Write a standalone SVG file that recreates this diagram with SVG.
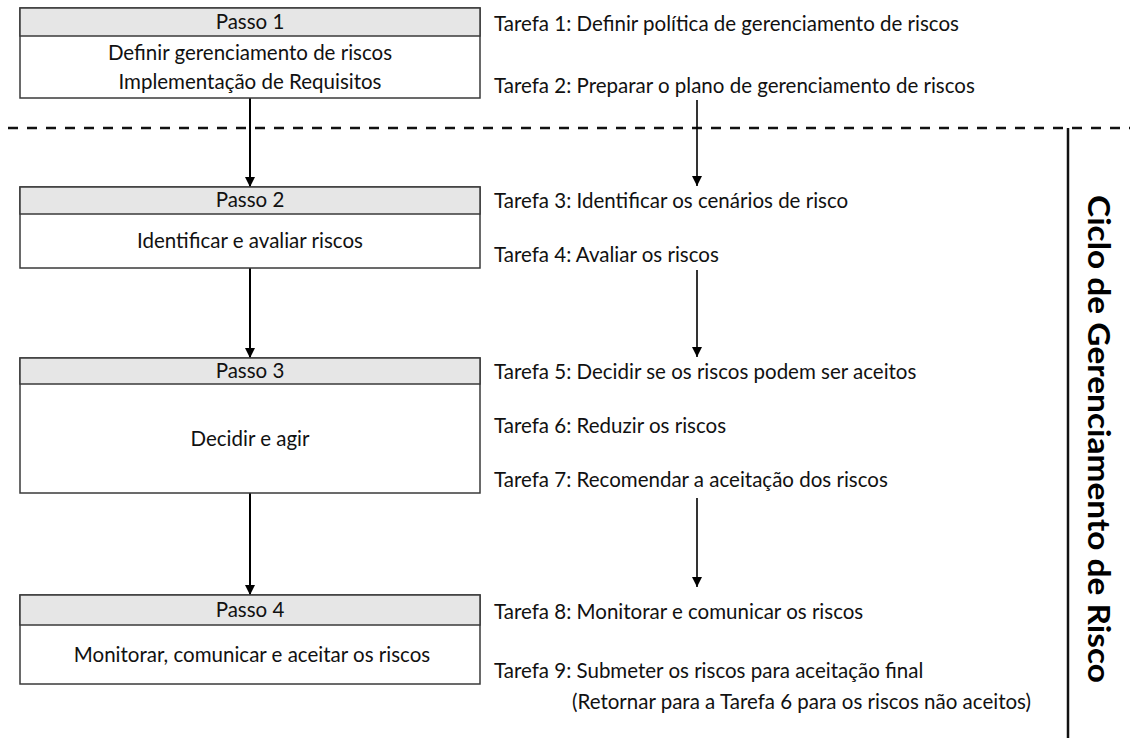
<svg xmlns="http://www.w3.org/2000/svg" width="1130" height="738" viewBox="0 0 1130 738">
  <style>
    .box { fill: #ffffff; stroke: #3a3a3a; stroke-width: 1.5; }
    .head { fill: #e6e6e6; stroke: #3a3a3a; stroke-width: 1.5; }
    .t { font-family: Lato, "Open Sans", sans-serif; font-size: 20.5px; fill: #111111; }
    .c { text-anchor: middle; }
    .flow { stroke: #000000; stroke-width: 2; fill: none; marker-end: url(#arrow); }
    .flow-thin { stroke: #000000; stroke-width: 1.6; fill: none; marker-end: url(#arrow); }
    .title { font-family: Lato, "Open Sans", sans-serif; font-size: 30px; font-weight: bold; fill: #000000; }
  </style>
  <defs>
    <marker id="arrow" viewBox="0 0 10 10" refX="10" refY="5" markerUnits="userSpaceOnUse" markerWidth="10" markerHeight="11" orient="auto">
      <path d="M0,0 L10,5 L0,10 Z" fill="#000000"/>
    </marker>
  </defs>

  <rect width="1130" height="738" fill="#ffffff"/>

  <!-- cycle boundary -->
  <g id="boundary">
    <line x1="8" y1="128" x2="1130" y2="128" stroke="#111111" stroke-width="2.5" stroke-dasharray="10 9"/>
    <line x1="1068" y1="128" x2="1068" y2="738" stroke="#111111" stroke-width="2.5"/>
    <text class="title" transform="translate(1100 439) rotate(90)" text-anchor="middle" dominant-baseline="central" textLength="488" lengthAdjust="spacingAndGlyphs">Ciclo de Gerenciamento de Risco</text>
  </g>

  <!-- connectors -->
  <g id="connectors">
    <line class="flow" x1="250" y1="98" x2="250" y2="187"/>
    <line class="flow" x1="250" y1="268" x2="250" y2="358"/>
    <line class="flow" x1="250" y1="493" x2="250" y2="595"/>
    <line class="flow-thin" x1="697" y1="100" x2="697" y2="186"/>
    <line class="flow-thin" x1="697" y1="270" x2="697" y2="357"/>
    <line class="flow-thin" x1="697" y1="498" x2="697" y2="587"/>
  </g>

  <g id="passo1">
    <rect class="box" x="20" y="8" width="460" height="90"/>
    <rect class="head" x="20" y="8" width="460" height="28"/>
    <text class="t c" x="250" y="29">Passo 1</text>
    <text class="t c" x="250" y="60">Definir gerenciamento de riscos</text>
    <text class="t c" x="250" y="89">Implementação de Requisitos</text>
  </g>

  <g id="passo2">
    <rect class="box" x="20" y="187" width="460" height="81"/>
    <rect class="head" x="20" y="187" width="460" height="27"/>
    <text class="t c" x="250" y="207">Passo 2</text>
    <text class="t c" x="250" y="248">Identificar e avaliar riscos</text>
  </g>

  <g id="passo3">
    <rect class="box" x="20" y="358" width="460" height="135"/>
    <rect class="head" x="20" y="358" width="460" height="26"/>
    <text class="t c" x="250" y="378">Passo 3</text>
    <text class="t c" x="250" y="446">Decidir e agir</text>
  </g>

  <g id="passo4">
    <rect class="box" x="20" y="595" width="460" height="89"/>
    <rect class="head" x="20" y="595" width="460" height="30"/>
    <text class="t c" x="250" y="617">Passo 4</text>
    <text class="t c" x="252" y="662">Monitorar, comunicar e aceitar os riscos</text>
  </g>

  <g id="tarefas">
    <text class="t" x="494" y="31">Tarefa 1: Definir política de gerenciamento de riscos</text>
    <text class="t" x="494" y="93">Tarefa 2: Preparar o plano de gerenciamento de riscos</text>
    <text class="t" x="494" y="208">Tarefa 3: Identificar os cenários de risco</text>
    <text class="t" x="494" y="262">Tarefa 4: Avaliar os riscos</text>
    <text class="t" x="494" y="379">Tarefa 5: Decidir se os riscos podem ser aceitos</text>
    <text class="t" x="494" y="433">Tarefa 6: Reduzir os riscos</text>
    <text class="t" x="494" y="487">Tarefa 7: Recomendar a aceitação dos riscos</text>
    <text class="t" x="494" y="619">Tarefa 8: Monitorar e comunicar os riscos</text>
    <text class="t" x="494" y="678">Tarefa 9: Submeter os riscos para aceitação final</text>
    <text class="t" x="572" y="709">(Retornar para a Tarefa 6 para os riscos não aceitos)</text>
  </g>
</svg>
